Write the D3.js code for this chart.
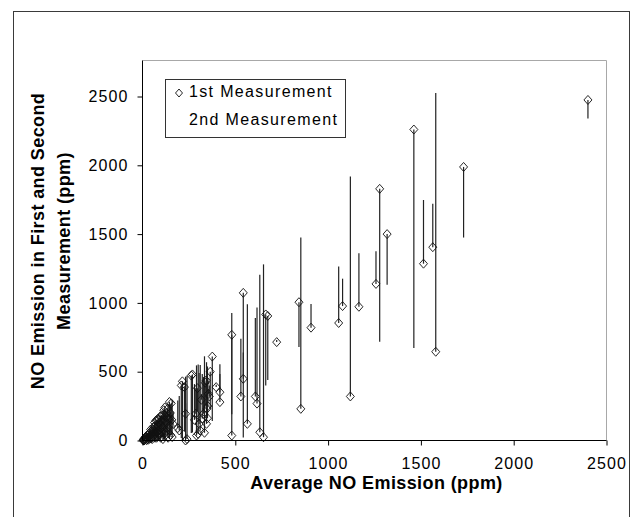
<!DOCTYPE html>
<html>
<head>
<meta charset="utf-8">
<script src="https://cdn.jsdelivr.net/npm/d3@7"></script>
<style>
  html, body { margin: 0; padding: 0; background: #fff; }
  svg { display: block; }
  text { font-family: Arial, "Liberation Sans", Helvetica, sans-serif; fill: #000; }
</style>
</head>
<body>
<svg id="chart" width="631" height="517"></svg>
<script>
// ---- data ----
// average NO emission (x), first measurement (diamond), second measurement (end of line)
const avgNO = [
  2400, 1730, 1462, 1580, 1564, 1514, 1278, 1318, 1258, 1166, 1120, 1078, 1057, 908, 843, 853, 723,
  664, 675, 652, 632, 617, 608, 565, 543, 543, 530, 481, 481,
  417, 417, 397, 376, 365, 360, 355, 350, 347, 345, 343, 334, 328, 317, 311, 300, 291, 287,
  269, 263, 240, 232, 232, 226, 215, 209, 198, 190, 322, 338, 305, 352, 296, 280,
  165, 160, 158, 155, 152, 150, 148, 145, 140, 138, 135, 133, 130, 128, 125, 122, 120, 118, 115, 112,
  110, 108, 105, 102, 100, 98, 95, 92, 90, 88, 85, 82, 80, 78, 75, 72, 70, 68, 65, 62,
  60, 58, 55, 52, 50, 48, 45, 42, 40, 38, 35, 32, 30, 28, 25, 22, 20, 18, 15, 12, 10, 8, 5, 3,
  126, 116, 104, 96, 86, 76, 66, 57, 47, 37, 27, 17, 7, 132, 94, 44
];
const firstNO = [
  2475, 1988, 2260, 645, 1405, 1285, 1829, 1500, 1138, 972, 320, 977, 854, 820, 1005, 230, 715,
  916, 905, 24, 60, 268, 320, 121, 1073, 448, 320, 768, 36,
  351, 279, 388, 610, 500, 320, 339, 162, 230, 121, 436, 56, 194, 296, 73, 48, 36, 194,
  480, 472, 10, 194, 0, 388, 430, 400, 73, 90, 160, 420, 120, 250, 380, 150,
  120, 25, 150, 270, 40, 200, 110, 280, 160, 20, 230, 90, 200, 130, 40, 180, 240, 70, 220, 150,
  10, 100, 185, 60, 140, 20, 175, 80, 130, 45, 160, 110, 30, 150, 60, 145, 90, 20, 130, 48,
  100, 30, 80, 10, 44, 70, 20, 60, 36, 12, 50, 24, 5, 40, 18, 3, 30, 10, 22, 5, 14, 0, 8, 2,
  60, 190, 30, 120, 150, 20, 100, 70, 15, 55, 10, 25, 0, 170, 40, 80
];
const secondNO = [
  2340, 1475, 672, 2525, 1720, 1748, 718, 1132, 1376, 1361, 1918, 1176, 1264, 992, 680, 1476, 731,
  400, 440, 1280, 1205, 966, 890, 990, 22, 640, 740, 190, 926,
  483, 555, 406, 142, 230, 400, 371, 538, 464, 569, 250, 612, 462, 338, 549, 552, 546, 380,
  58, 54, 470, 270, 464, 64, 0, 18, 323, 290, 484, 256, 490, 454, 212, 410,
  210, 295, 166, 40, 264, 100, 186, 10, 120, 256, 40, 176, 60, 126, 210, 64, 0, 166, 10, 74,
  210, 116, 25, 144, 60, 176, 15, 104, 50, 131, 10, 54, 130, 6, 90, 0, 50, 116, 0, 76,
  20, 86, 30, 94, 56, 26, 70, 24, 44, 64, 20, 40, 55, 16, 32, 41, 10, 26, 8, 19, 6, 16, 2, 4,
  192, 42, 178, 72, 22, 132, 32, 44, 79, 19, 44, 9, 14, 94, 148, 8
];
const xTicks = [0, 500, 1000, 1500, 2000, 2500];
const yTicks = [0, 500, 1000, 1500, 2000, 2500];
const legendLabels = ["1st Measurement", "2nd Measurement"];
const xTitle = "Average NO Emission (ppm)";
const yTitleLines = ["NO Emission in First and Second", "Measurement (ppm)"];

// ---- layout ----
const svg = d3.select("#chart");
const plot = { left: 142.5, right: 606.5, top: 60.5, bottom: 440.5 };
const x = d3.scaleLinear().domain([0, 2500]).range([plot.left, plot.right]);
const y = d3.scaleLinear().domain([0, 2500]).range([plot.bottom, 96.5]);

const points = avgNO.map((a, i) => ({ a, f: firstNO[i], s: secondNO[i] }));

// outer frame
svg.append("rect")
  .attr("x", 13.5).attr("y", 11.5).attr("width", 616).attr("height", 520)
  .attr("fill", "none").attr("stroke", "#3a3a3a").attr("stroke-width", 1);

// plot area top & right border (gray)
svg.append("path")
  .attr("d", `M${plot.left},${plot.top}H${plot.right}V${plot.bottom}`)
  .attr("fill", "none").attr("stroke", "#a8a8a8").attr("stroke-width", 1);

// vertical lines joining first and second measurement
const g = svg.append("g");
g.selectAll("line.pair").data(points).join("line")
  .attr("class", "pair")
  .attr("x1", d => x(d.a)).attr("x2", d => x(d.a))
  .attr("y1", d => y(d.f)).attr("y2", d => y(d.s))
  .attr("stroke", "#222").attr("stroke-width", 1.2);

// diamonds (first measurement)
const diamond = "M0,-4.5L4,0L0,4.5L-4,0Z";
g.selectAll("path.dia").data(points).join("path")
  .attr("class", "dia")
  .attr("d", diamond)
  .attr("transform", d => `translate(${x(d.a)},${y(d.f)})`)
  .attr("fill", "none").attr("stroke", "#111").attr("stroke-width", 0.9);

// axes
const xAxis = d3.axisBottom(x).tickValues(xTicks).tickSize(5).tickPadding(12).tickFormat(d3.format("d"));
const yAxis = d3.axisLeft(y).tickValues(yTicks).tickSize(5).tickPadding(9).tickFormat(d3.format("d"));

const gx = svg.append("g").attr("transform", `translate(0,${plot.bottom})`).call(xAxis);
const gy = svg.append("g").attr("transform", `translate(${plot.left},0)`).call(yAxis);
[gx, gy].forEach(ax => {
  ax.select(".domain").attr("stroke", "#000").attr("stroke-width", 1);
  ax.selectAll(".tick line").attr("stroke", "#000");
  ax.selectAll(".tick text")
    .style("font-family", "Arial, 'Liberation Sans', sans-serif")
    .style("font-size", "16px").style("letter-spacing", "1.1px").attr("fill", "#000");
});
gx.select(".domain").attr("d", `M${plot.left},0H${plot.right}`);
gy.select(".domain").attr("d", `M0,${plot.bottom}V${plot.top}`);

// axis titles
svg.append("text")
  .attr("x", (plot.left + plot.right) / 2 + 2).attr("y", 489)
  .attr("text-anchor", "middle")
  .style("font-size", "18px").style("font-weight", "bold").style("letter-spacing", "0.4px")
  .text(xTitle);

const yt = svg.append("text")
  .attr("transform", "translate(43.5,241) rotate(-90)")
  .attr("text-anchor", "middle")
  .style("font-size", "18px").style("font-weight", "bold").style("letter-spacing", "0.4px");
yt.append("tspan").attr("x", 0).attr("y", 0).text(yTitleLines[0]);
yt.append("tspan").attr("x", 0).attr("y", 26).text(yTitleLines[1]);

// legend
const lg = svg.append("g");
lg.append("rect")
  .attr("x", 165.5).attr("y", 79.5).attr("width", 180).attr("height", 58)
  .attr("fill", "#fff").attr("stroke", "#333").attr("stroke-width", 1);
lg.append("path").attr("d", "M0,-4L3.5,0L0,4L-3.5,0Z")
  .attr("transform", "translate(179,93)")
  .attr("fill", "none").attr("stroke", "#111").attr("stroke-width", 0.9);
legendLabels.forEach((t, i) => {
  lg.append("text")
    .attr("x", 189).attr("y", 96.5 + i * 28.5)
    .style("font-size", "16px").style("letter-spacing", "1.35px")
    .text(t);
});
</script>
</body>
</html>
